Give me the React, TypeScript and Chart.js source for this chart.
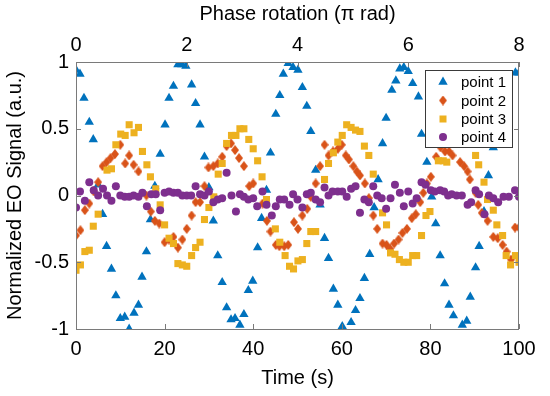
import React, { useEffect, useRef } from "react";
import { Chart, registerables } from "chart.js";

Chart.register(...registerables);

// ---------- Data ----------
const seriesNames = ["point 1", "point 2", "point 3", "point 4"];
const seriesColors = ["#0072BD", "#D95319", "#EDB120", "#7E2F8E"];

const xTickStep = 20;
const phaseTickStep = 2;
const yTickStep = 0.5;

const p1Time = [0, 0.9, 1.8, 3.0, 3.9, 5.0, 6.0, 6.9, 8.0, 9.0, 10.0, 11.0, 12.0, 13.1, 14.1, 14.9, 15.9, 16.8, 17.8, 19.0, 20.1, 21.0, 22.0, 23.0, 23.9, 24.8, 26.1, 27.0, 28.0, 29.0, 30.0, 31.0, 32.0, 33.0, 34.0, 35.0, 35.9, 37.0, 37.9, 38.9, 39.9, 41.0, 41.9, 43.0, 43.9, 45.1, 46.0, 46.8, 47.9, 49.0, 50.1, 51.1, 52.1, 53.0, 54.1, 55.1, 56.1, 57.0, 58.1, 59.1, 60.1, 62.1, 63.1, 64.1, 65.1, 66.3, 67.3, 68.2, 69.2, 70.0, 71.3, 72.2, 73.1, 74.0, 75.0, 76.0, 77.3, 78.0, 79.2, 80.3, 81.2, 82.2, 83.2, 84.2, 85.2, 87.2, 88.2, 89.0, 90.2, 91.0, 92.1, 93.1, 94.2, 99.2, 100.0];
const p1Value = [0.94, 0.91, 0.73, 0.55, 0.42, 0.08, -0.14, -0.38, -0.55, -0.75, -0.92, -0.91, -1.0, -0.88, -0.82, -0.61, -0.42, -0.18, 0.07, 0.31, 0.53, 0.73, 0.82, 0.98, 0.98, 0.97, 0.83, 0.69, 0.53, 0.29, 0.06, -0.19, -0.45, -0.65, -0.84, -0.93, -0.92, -0.97, -0.89, -0.71, -0.64, -0.39, -0.17, 0.04, 0.32, 0.61, 0.75, 0.91, 0.99, 0.96, 0.94, 0.81, 0.67, 0.48, 0.19, -0.07, -0.32, -0.47, -0.70, -0.82, -0.98, -0.95, -0.86, -0.77, -0.62, -0.44, -0.09, 0.12, 0.39, 0.58, 0.79, 0.86, 0.95, 0.96, 0.93, 0.84, 0.74, 0.46, 0.25, -0.01, -0.21, -0.45, -0.66, -0.82, -0.90, -0.97, -0.94, -0.76, -0.54, -0.38, -0.12, 0.15, 0.36, 0.92, 0.92];

const p2Time = [0, 1.0, 2.0, 3.0, 4.0, 5.0, 6.0, 6.9, 7.8, 8.8, 10.0, 11.1, 12.0, 13.0, 14.1, 15.9, 16.9, 17.8, 18.8, 20.0, 21.0, 22.0, 23.0, 24.0, 25.0, 26.1, 27.0, 28.0, 29.0, 29.9, 31.0, 32.0, 33.0, 34.0, 35.0, 35.9, 36.8, 37.9, 39.1, 40.0, 42.1, 43.1, 43.9, 45.1, 45.9, 47.0, 47.9, 49.2, 50.1, 51.1, 52.2, 53.0, 54.1, 55.1, 56.1, 57.0, 58.0, 59.1, 60.0, 60.9, 61.6, 62.6, 63.4, 64.1, 65.2, 66.1, 67.1, 68.0, 69.2, 70.1, 70.9, 71.8, 72.8, 73.7, 74.7, 75.8, 76.7, 77.7, 78.4, 79.2, 80.1, 81.3, 82.3, 83.3, 84.2, 85.0, 86.7, 87.6, 88.4, 88.9, 90.2, 90.8, 91.6, 92.9, 94.2, 95.2, 96.3, 97.2, 98.2, 99.1, 100.0];
const p2Value = [-0.30, -0.26, -0.11, -0.06, 0.03, 0.10, 0.22, 0.25, 0.28, 0.31, 0.38, 0.24, 0.30, 0.23, 0.18, 0.0, -0.12, -0.19, -0.21, -0.35, -0.33, -0.31, -0.39, -0.33, -0.25, -0.15, -0.05, -0.05, 0.07, 0.21, 0.22, 0.24, 0.29, 0.37, 0.39, 0.34, 0.28, 0.22, 0.07, 0.09, -0.06, -0.19, -0.27, -0.37, -0.38, -0.38, -0.37, -0.20, -0.25, -0.15, -0.10, -0.01, 0.09, 0.22, 0.38, 0.30, 0.33, 0.35, 0.38, 0.30, 0.27, 0.22, 0.18, 0.15, 0.09, -0.02, -0.15, -0.25, -0.36, -0.37, -0.40, -0.36, -0.33, -0.28, -0.25, -0.17, -0.14, -0.05, 0.02, 0.09, 0.14, 0.29, 0.36, 0.33, 0.33, 0.30, 0.25, 0.22, 0.18, 0.12, 0.02, -0.07, -0.13, -0.19, -0.31, -0.32, -0.37, -0.42, -0.48, -0.24, -0.24];

const p3Time = [0, 1.0, 2.0, 3.0, 3.9, 5.0, 7.0, 8.0, 9.0, 10.1, 11.1, 12.0, 13.1, 14.1, 15.0, 16.0, 16.8, 18.0, 19.0, 20.0, 21.0, 22.0, 23.0, 24.0, 25.0, 26.1, 27.0, 28.0, 29.0, 30.0, 31.1, 32.1, 33.0, 34.0, 35.1, 36.1, 37.0, 37.9, 39.0, 40.0, 41.0, 42.0, 43.0, 45.0, 46.0, 47.2, 48.2, 49.1, 50.1, 51.1, 52.1, 53.0, 54.1, 56.1, 57.0, 58.1, 59.1, 60.1, 61.1, 62.1, 63.1, 64.1, 65.1, 66.1, 67.1, 69.2, 70.1, 71.0, 72.0, 73.0, 74.0, 75.0, 76.0, 76.9, 78.0, 79.0, 79.9, 81.8, 82.9, 83.7, 90.2, 90.9, 92.1, 92.9, 94.2, 95.0, 96.3, 97.1, 98.1, 99.2, 100.0];
const p3Value = [-0.56, -0.52, -0.42, -0.41, -0.23, -0.14, 0.19, 0.20, 0.38, 0.46, 0.45, 0.53, 0.47, 0.51, 0.33, 0.23, 0.14, 0.05, -0.07, -0.22, -0.32, -0.36, -0.51, -0.52, -0.53, -0.45, -0.39, -0.35, -0.18, -0.09, -0.01, 0.16, 0.24, 0.39, 0.45, 0.45, 0.50, 0.50, 0.42, 0.35, 0.26, 0.14, -0.03, -0.25, -0.35, -0.45, -0.53, -0.55, -0.49, -0.48, -0.36, -0.27, -0.27, 0.12, 0.24, 0.32, 0.40, 0.45, 0.53, 0.51, 0.49, 0.48, 0.37, 0.30, 0.16, -0.13, -0.22, -0.43, -0.44, -0.48, -0.50, -0.50, -0.45, -0.45, -0.30, -0.15, -0.12, 0.26, 0.26, 0.25, 0.30, 0.23, 0.10, -0.03, -0.11, -0.22, -0.30, -0.45, -0.52, -0.45, -0.50];

const p4Time = [0, 0.9, 2.0, 3.0, 4.0, 5.0, 6.1, 7.0, 8.0, 9.0, 10.0, 11.0, 12.0, 13.0, 14.1, 15.0, 16.0, 17.0, 18.0, 19.0, 20.0, 21.0, 22.0, 23.0, 24.0, 25.0, 26.0, 27.0, 28.0, 29.0, 30.0, 31.0, 32.0, 33.0, 34.0, 35.1, 36.1, 37.0, 37.9, 38.9, 40.0, 40.9, 42.1, 43.0, 44.2, 45.1, 46.0, 47.0, 48.2, 49.0, 50.0, 51.1, 52.1, 53.0, 54.1, 55.1, 56.1, 57.0, 57.9, 59.1, 60.1, 61.1, 62.1, 63.1, 64.1, 65.1, 66.1, 67.1, 68.0, 69.0, 70.0, 71.0, 72.0, 73.1, 74.0, 75.0, 76.0, 76.9, 78.0, 78.9, 80.1, 81.0, 82.2, 83.1, 84.0, 84.8, 85.9, 87.1, 88.4, 89.2, 90.2, 91.0, 92.2, 93.2, 94.2, 95.3, 96.5, 97.7, 99.1, 100.0];
const p4Value = [-0.09, 0.03, -0.04, 0.10, 0.04, 0.0, 0.05, 0.0, -0.04, 0.07, 0.0, -0.01, -0.01, 0.0, -0.01, 0.02, -0.08, 0.01, 0.01, -0.11, 0.02, 0.03, 0.02, 0.02, 0.0, 0.0, 0.0, 0.07, 0.01, 0.0, 0.03, -0.05, -0.03, -0.02, 0.17, 0.0, -0.12, 0.01, -0.01, -0.03, -0.02, -0.08, 0.03, -0.07, -0.15, -0.08, -0.03, -0.03, -0.07, 0.01, -0.03, -0.09, 0.01, 0.02, -0.03, -0.05, 0.06, 0.0, 0.03, 0.03, 0.03, -0.01, 0.05, 0.07, -0.13, -0.03, -0.05, 0.07, 0.0, -0.02, -0.10, -0.02, 0.08, 0.02, -0.08, 0.03, -0.06, -0.02, 0.10, 0.08, 0.04, 0.03, 0.04, 0.03, 0.0, 0.01, 0.0, 0.0, -0.07, -0.05, 0.04, 0.01, -0.14, 0.0, -0.02, -0.05, -0.01, -0.01, 0.04, -0.01];

const FONT = "'Liberation Sans', Arial, Helvetica, sans-serif";

function makeDiamond(color: string): HTMLCanvasElement {
  const c = document.createElement("canvas");
  c.width = 8;
  c.height = 10;
  const g = c.getContext("2d")!;
  g.fillStyle = color;
  g.beginPath();
  g.moveTo(4, 0);
  g.lineTo(8, 5);
  g.lineTo(4, 10);
  g.lineTo(0, 5);
  g.closePath();
  g.fill();
  return c;
}

function toPoints(t: number[], v: number[]) {
  return t.map((x, i) => ({ x, y: v[i] }));
}

export default function App() {
  const ref = useRef<HTMLCanvasElement | null>(null);

  useEffect(() => {
    document.body.style.margin = "0";
    const canvas = ref.current!;
    const diamond = makeDiamond(seriesColors[1]);
    const pointStyles: any[] = ["triangle", diamond, "rect", "circle"];
    const radii = [5.4, 5, 5, 4];

    const frame = {
      id: "frame",
      afterDatasetsDraw(chart: any) {
        const { ctx, chartArea: a, scales } = chart;
        ctx.save();
        ctx.strokeStyle = "#7a7a7a";
        ctx.lineWidth = 1;
        ctx.strokeRect(Math.round(a.left) + 0.5, Math.round(a.top) + 0.5, Math.round(a.right - a.left) - 1, Math.round(a.bottom - a.top));
        const tl = 5;
        ctx.beginPath();
        scales.x.ticks.forEach((t: any) => {
          const px = Math.round(scales.x.getPixelForValue(t.value)) + 0.5;
          ctx.moveTo(px, a.bottom);
          ctx.lineTo(px, a.bottom - tl);
        });
        scales.x2.ticks.forEach((t: any) => {
          const px = Math.round(scales.x2.getPixelForValue(t.value)) + 0.5;
          ctx.moveTo(px, a.top);
          ctx.lineTo(px, a.top + tl);
        });
        scales.y.ticks.forEach((t: any) => {
          const py = Math.round(scales.y.getPixelForValue(t.value)) + 0.5;
          ctx.moveTo(a.left, py);
          ctx.lineTo(a.left + tl, py);
          ctx.moveTo(a.right, py);
          ctx.lineTo(a.right - tl, py);
        });
        ctx.stroke();

        // legend box
        const lx = 425, ly = 70, lw = 87, lh = 77;
        ctx.fillStyle = "#ffffff";
        ctx.fillRect(lx, ly, lw, lh);
        ctx.strokeStyle = "#3a3a3a";
        ctx.strokeRect(lx + 0.5, ly + 0.5, lw, lh);
        ctx.font = `15px ${FONT}`;
        ctx.textBaseline = "middle";
        ctx.textAlign = "left";
        const rowY = [82, 100.5, 119, 137];
        const mx = 443;
        seriesNames.forEach((name, i) => {
          const y = rowY[i];
          ctx.fillStyle = seriesColors[i];
          if (i === 0) {
            const r = 5.4;
            ctx.beginPath();
            ctx.moveTo(mx, y - r);
            ctx.lineTo(mx + r * 0.866, y + r * 0.5);
            ctx.lineTo(mx - r * 0.866, y + r * 0.5);
            ctx.closePath();
            ctx.fill();
          } else if (i === 1) {
            ctx.drawImage(diamond, mx - 4, y - 5);
          } else if (i === 2) {
            ctx.fillRect(mx - 3.5, y - 3.5, 7, 7);
          } else {
            ctx.beginPath();
            ctx.arc(mx, y, 4, 0, Math.PI * 2);
            ctx.fill();
          }
          ctx.fillStyle = "#000";
          ctx.fillText(name, 461, y + 1);
        });
        ctx.restore();
      },
    };

    const timeSets = [p1Time, p2Time, p3Time, p4Time];
    const valueSets = [p1Value, p2Value, p3Value, p4Value];

    const tickFont = { family: FONT, size: 20 };
    const titleFont = { family: FONT, size: 20 };

    const chart = new Chart(canvas, {
      type: "scatter",
      data: {
        datasets: seriesNames.map((name, i) => ({
          label: name,
          data: toPoints(timeSets[i], valueSets[i]),
          xAxisID: "x",
          yAxisID: "y",
          backgroundColor: seriesColors[i],
          borderColor: seriesColors[i],
          borderWidth: 0,
          pointStyle: pointStyles[i],
          pointRadius: radii[i],
          order: 4 - i,
        })),
      },
      options: {
        animation: false,
        responsive: false,
        events: [],
        layout: { padding: 0 },
        plugins: {
          legend: { display: false },
          tooltip: { enabled: false },
        },
        scales: {
          x: {
            type: "linear",
            position: "bottom",
            min: 0,
            max: 100,
            ticks: { stepSize: xTickStep, color: "#000", font: tickFont, padding: 8, maxRotation: 0, callback: (v: any) => String(v) },
            grid: { display: false, drawTicks: false },
            border: { display: false },
            title: { display: true, text: "Time (s)", color: "#000", font: titleFont, padding: { top: 0, bottom: 6 } },
            afterFit: (s: any) => { s.height = 67; },
          },
          x2: {
            type: "linear",
            position: "top",
            min: 0,
            max: 8,
            ticks: { stepSize: phaseTickStep, color: "#000", font: tickFont, padding: 5, maxRotation: 0, callback: (v: any) => String(v) },
            grid: { display: false, drawTicks: false },
            border: { display: false },
            title: { display: true, text: "Phase rotation (π rad)", color: "#000", font: titleFont, padding: { top: 2, bottom: 0 } },
            afterFit: (s: any) => { s.height = 62; },
          },
          y: {
            type: "linear",
            position: "left",
            min: -1,
            max: 1,
            ticks: { stepSize: yTickStep, color: "#000", font: tickFont, padding: 7, callback: (v: any) => String(v) },
            grid: { display: false, drawTicks: false },
            border: { display: false },
            title: { display: true, text: "Normalized EO Signal (a.u.)", color: "#000", font: titleFont, padding: { top: 3, bottom: 0 } },
            afterFit: (s: any) => { s.width = 76; },
          },
          y2: {
            type: "linear",
            position: "right",
            min: -1,
            max: 1,
            ticks: { display: false },
            grid: { display: false, drawTicks: false },
            border: { display: false },
            afterFit: (s: any) => { s.width = 31; },
          },
        },
      },
      plugins: [frame],
    } as any);

    return () => chart.destroy();
  }, []);

  return (
    <div style={{ width: 550, height: 396 }}>
      <canvas ref={ref} width={550} height={396} style={{ display: "block", width: 550, height: 396 }} />
    </div>
  );
}
